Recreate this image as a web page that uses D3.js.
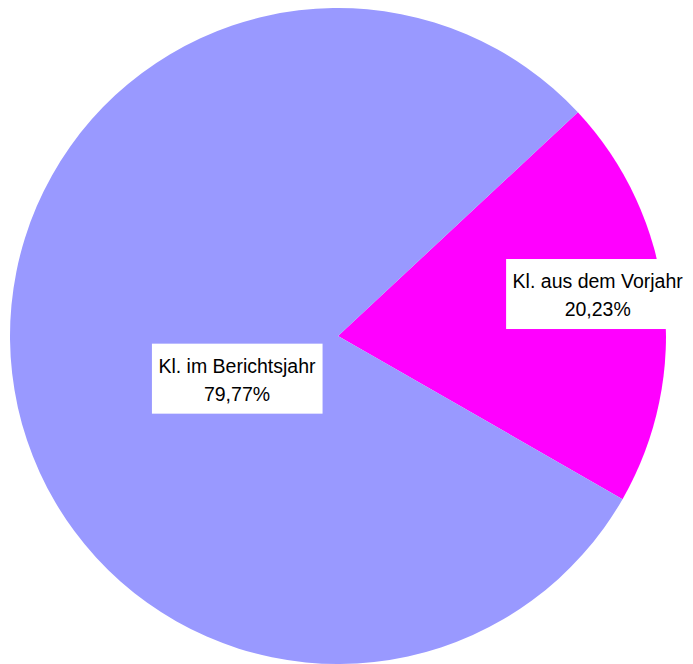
<!DOCTYPE html>
<html lang="de">
<head>
<meta charset="UTF-8">
<script src="https://d3js.org/d3.v7.min.js"></script>
<style>
  body { margin: 0; background: #fff; }
  svg { display: block; font-family: "Liberation Sans", Arial, sans-serif; }
</style>
</head>
<body>
<div id="chart"></div>
<script>
// data
const labels = ["Kl. aus dem Vorjahr", "Kl. im Berichtsjahr"];
const values = [20.23, 79.77];
const colors = ["#FF00FF", "#9999FF"];

const width = 693, height = 664;
const cx = 338, cy = 336, radius = 328;

const svg = d3.select("#chart")
  .append("svg")
  .attr("width", width)
  .attr("height", height);

const g = svg.append("g")
  .attr("transform", `translate(${cx}, ${cy})`);

const start = 47 * Math.PI / 180;
const pie = d3.pie()
  .sort(null)
  .value(d => d)
  .startAngle(start)
  .endAngle(start + 2 * Math.PI);

const arc = d3.arc().innerRadius(0).outerRadius(radius);

const arcs = pie(values);

g.selectAll("path")
  .data(arcs)
  .enter()
  .append("path")
  .attr("d", arc)
  .attr("fill", (d, i) => colors[i]);

// label placement (fraction of radius along mid angle, plus vertical nudge)
const labelRadius = [0.797, 0.31];
const labelNudge = [-12, 31];

const fmt = v => v.toFixed(2).replace(".", ",") + "%";

arcs.forEach((d, i) => {
  const c = d3.arc().innerRadius(0).outerRadius(radius * labelRadius[i] * 2).centroid(d);
  const lx = c[0], ly = c[1] + labelNudge[i];
  const lg = g.append("g").attr("transform", `translate(${lx}, ${ly})`);
  const box = lg.append("rect").attr("fill", "#fff");
  const t = lg.append("text")
    .attr("text-anchor", "middle")
    .style("font-size", "19.5px")
    .attr("fill", "#000");
  t.append("tspan").attr("x", 0).attr("y", -6).text(labels[i]);
  t.append("tspan").attr("x", 0).attr("y", 22).text(fmt(values[i]));
  const bb = t.node().getBBox();
  box.attr("x", bb.x - 6.5).attr("y", -35)
    .attr("width", bb.width + 13).attr("height", 70);
});
</script>
</body>
</html>
